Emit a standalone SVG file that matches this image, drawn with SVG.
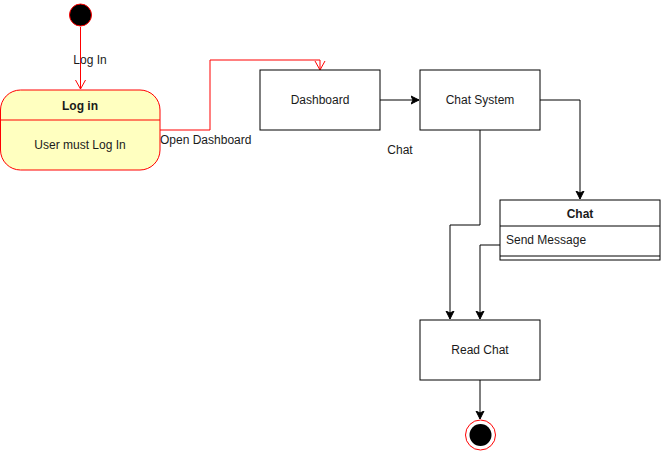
<svg xmlns="http://www.w3.org/2000/svg" width="661" height="451" viewBox="0 0 661 451">
<defs>
<style>
text{font-family:"Liberation Sans",Arial,sans-serif;font-size:12px;fill:#1a1a1a}
.c{text-anchor:middle}
.b{font-weight:bold}
.box{fill:#fff;stroke:#000;stroke-width:1}
.blk{fill:none;stroke:#000;stroke-width:1}
.red{fill:none;stroke:#ff0000;stroke-width:1}
</style>
<marker id="open" markerWidth="12" markerHeight="12" refX="10" refY="6" orient="auto" markerUnits="userSpaceOnUse">
<path d="M1,1 L10,6 L1,11" fill="none" stroke="#ff0000" stroke-width="1"/>
</marker>
<marker id="fill" markerWidth="10" markerHeight="10" refX="8" refY="5" orient="auto" markerUnits="userSpaceOnUse">
<path d="M0,1 L8,5 L0,9 L2,5 Z" fill="#000" stroke="#000" stroke-width="1"/>
</marker>
</defs>
<rect width="661" height="451" fill="#fff"/>
<g id="connectors">
<path class="red" d="M80.5,27 V89" marker-end="url(#open)"/>
<path class="red" d="M160,130 H210 V60 H320 V70" marker-end="url(#open)"/>
<path class="blk" d="M380,100 H419" marker-end="url(#fill)"/>
<path class="blk" d="M540,100 H580 V199" marker-end="url(#fill)"/>
<path class="blk" d="M480,130 V225 H450 V319" marker-end="url(#fill)"/>
<path class="blk" d="M500,245 H480 V319" marker-end="url(#fill)"/>
<path class="blk" d="M480,380 V419" marker-end="url(#fill)"/>
<text x="90" y="64" class="c">Log In</text>
<text x="160" y="144">Open Dashboard</text>
<text x="400" y="154" class="c">Chat</text>
</g>
<g id="start">
<circle cx="80.5" cy="15" r="11" fill="#000" stroke="#ff0000" stroke-width="1"/>
</g>
<g id="login">
<rect x="0.5" y="90" width="159.5" height="80" rx="20" ry="20" fill="#ffffc0" stroke="#ff0000"/>
<line x1="0.5" y1="120" x2="160" y2="120" stroke="#ff0000"/>
<text x="80" y="110" class="c b">Log in</text>
<text x="80" y="149" class="c">User must Log In</text>
</g>
<g id="dashboard">
<rect class="box" x="260" y="70" width="120" height="60"/>
<text x="320" y="104" class="c">Dashboard</text>
</g>
<g id="chatsystem">
<rect class="box" x="420" y="70" width="120" height="60"/>
<text x="480" y="104" class="c">Chat System</text>
</g>
<g id="chat">
<rect class="box" x="500" y="200" width="160" height="60"/>
<line class="blk" x1="500" y1="226" x2="660" y2="226"/>
<line class="blk" x1="500" y1="256" x2="660" y2="256"/>
<text x="580" y="218" class="c b">Chat</text>
<text x="506" y="244">Send Message</text>
</g>
<g id="readchat">
<rect class="box" x="420" y="320" width="120" height="60"/>
<text x="480" y="354" class="c">Read Chat</text>
</g>
<g id="end">
<circle cx="480.5" cy="435" r="15" fill="#fff" stroke="#ff0000" stroke-width="1"/>
<circle cx="480.5" cy="435" r="11" fill="#000"/>
</g>
</svg>
